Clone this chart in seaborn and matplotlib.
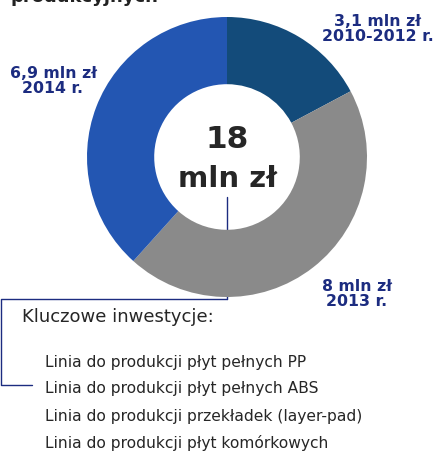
import matplotlib.pyplot as plt
import seaborn as sns

# investment by period (mln zł), clockwise from the top
periods = ["2010-2012 r.", "2013 r.", "2014 r."]
values = [3.1, 8.0, 6.9]
value_labels = ["3,1 mln zł", "8 mln zł", "6,9 mln zł"]
colors = ["#134b7a", "#8a8a8a", "#2356b2"]
total_label = ["18", "mln zł"]
heading = "produkcyjnych"
list_title = "Kluczowe inwestycje:"
investments = [
    "Linia do produkcji płyt pełnych PP",
    "Linia do produkcji płyt pełnych ABS",
    "Linia do produkcji przekładek (layer-pad)",
    "Linia do produkcji płyt komórkowych",
]

sns.set_theme(style="white")
plt.rcParams["font.family"] = ["DejaVu Sans"]

W, H = 440, 454
fig = plt.figure(figsize=(W / 100, H / 100), dpi=100)
fig.patch.set_facecolor("white")

# overlay in pixel coordinates for text and connector lines
ov = fig.add_axes([0, 0, 1, 1])
ov.set_xlim(0, W)
ov.set_ylim(H, 0)
ov.axis("off")

# donut
cx, cy, r = 227, 157, 140
ax = fig.add_axes([(cx - r) / W, (H - cy - r) / H, 2 * r / W, 2 * r / H])
ax.pie(values, colors=colors, startangle=90, counterclock=False,
       radius=1, wedgeprops=dict(width=0.48, linewidth=0))
ax.set_xlim(-1, 1)
ax.set_ylim(-1, 1)
ax.set_aspect("equal")
ax.axis("off")

navy = "#1c2c80"
# heading is cut off at the top edge in the source image
ov.text(10, 2, heading, fontsize=13, fontweight="bold", color="#222222",
        va="baseline", ha="left")

label_pos = [(378, 29), (357, 294), (53, 81)]
for (x, y), v, p in zip(label_pos, value_labels, periods):
    ov.text(x, y, f"{v}\n{p}", ha="center", va="center", fontsize=11.3,
            fontweight="bold", color=navy, linespacing=1.0)

ov.text(cx, 139, total_label[0], ha="center", va="center", fontsize=22.5,
        fontweight="bold", color="#262626")
ov.text(cx, 179, total_label[1], ha="center", va="center", fontsize=21,
        fontweight="bold", color="#262626")

# connector bracket
ov.plot([cx, cx], [197, 299], color=navy, lw=1)
ov.plot([cx, 1, 1, 32], [299, 299, 385, 385], color=navy, lw=1)

ov.text(22, 317, list_title, ha="left", va="center", fontsize=13, color="#262626")
for i, item in enumerate(investments):
    ov.text(45, 362 + i * 27, item, ha="left", va="center", fontsize=11.2,
            color="#262626")

fig.savefig("out.png", dpi=100)
